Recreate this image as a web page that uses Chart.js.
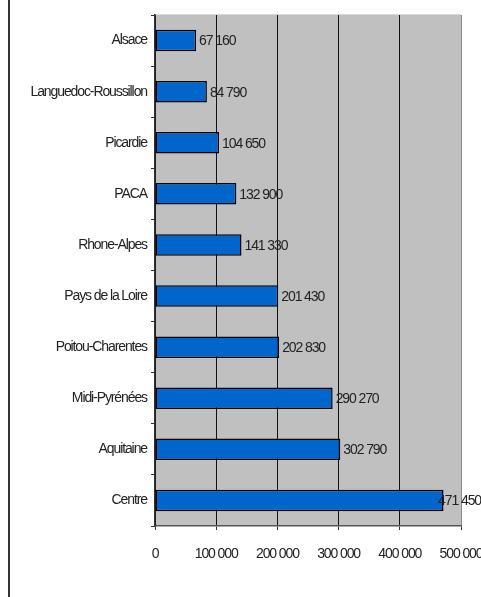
<!DOCTYPE html>
<html>
<head>
<meta charset="utf-8">
<script src="https://cdn.jsdelivr.net/npm/chart.js@4.4.1/dist/chart.umd.min.js"></script>
<style>
    html, body { margin: 0; padding: 0; background: #fff; }
    #wrap { position: relative; width: 481px; height: 597px; overflow: hidden; }
    #frame { position: absolute; left: 8px; top: 0; width: 2px; height: 597px; background: #333; }
    #regions { position: absolute; left: 0; top: 0; }
</style>
</head>
<body>
<div id="wrap">
    <div id="frame"></div>
    <canvas id="regions" width="481" height="597"></canvas>
</div>
<script>
const regions = ['Alsace', 'Languedoc-Roussillon', 'Picardie', 'PACA', 'Rhone-Alpes',
    'Pays de la Loire', 'Poitou-Charentes', 'Midi-Pyrénées', 'Aquitaine', 'Centre'];
const surfaces = [67160, 84790, 104650, 132900, 141330, 201430, 202830, 290270, 302790, 471450];
const xTicks = [0, 100000, 200000, 300000, 400000, 500000];

const FONT = "'Liberation Sans Narrow', 'Arial Narrow', 'Liberation Sans', Arial, sans-serif";
const TIGHT = '-1.1px';

function fmt(v) {
    return String(v).replace(/\B(?=(\d{3})+(?!\d))/g, ' ');
}

// texte resserré (pas de police étroite dispo)
const tightText = {
    id: 'tightText',
    beforeLayout(chart) { chart.ctx.letterSpacing = TIGHT; },
    beforeDraw(chart) { chart.ctx.letterSpacing = TIGHT; }
};

// fond gris de la zone de tracé
const plotBg = {
    id: 'plotBg',
    beforeDraw(chart) {
        const { ctx, chartArea: a } = chart;
        ctx.save();
        ctx.fillStyle = '#c0c0c0';
        ctx.fillRect(a.left, a.top, a.right - a.left, a.bottom - a.top);
        ctx.strokeStyle = '#d8d8d8';
        ctx.lineWidth = 1;
        ctx.beginPath();
        ctx.moveTo(a.left, a.top - 0.5);
        ctx.lineTo(a.right, a.top - 0.5);
        ctx.stroke();
        ctx.restore();
    }
};

// valeurs à droite des barres (recalées si elles débordent)
const valueLabels = {
    id: 'valueLabels',
    afterDatasetsDraw(chart) {
        const { ctx } = chart;
        const meta = chart.getDatasetMeta(0);
        ctx.save();
        ctx.font = '14px ' + FONT;
        ctx.fillStyle = '#222';
        ctx.textAlign = 'left';
        ctx.textBaseline = 'middle';
        meta.data.forEach((bar, i) => {
            const txt = fmt(surfaces[i]);
            const w = ctx.measureText(txt).width;
            const x = Math.min(bar.x + 3, chart.width - w);
            ctx.fillText(txt, x, bar.y + 1);
        });
        ctx.restore();
    }
};

new Chart(document.getElementById('regions'), {
    type: 'bar',
    data: {
        labels: regions,
        datasets: [{
            data: surfaces,
            backgroundColor: '#0066cc',
            borderColor: '#000',
            borderWidth: 1.5,
            borderSkipped: false,
            categoryPercentage: 1,
            barPercentage: 0.42
        }]
    },
    options: {
        indexAxis: 'y',
        responsive: false,
        animation: false,
        layout: { padding: { top: 15, right: 20, left: 0, bottom: 0 } },
        plugins: {
            legend: { display: false },
            tooltip: { enabled: false }
        },
        scales: {
            x: {
                min: 0,
                max: 500000,
                afterBuildTicks: (scale) => { scale.ticks = xTicks.map(v => ({ value: v })); },
                afterFit: (scale) => {
                    scale.height = 71;
                    scale.paddingLeft = 0;
                    scale.paddingRight = 0;
                },
                ticks: {
                    color: '#222',
                    font: { family: FONT, size: 14 },
                    padding: 16,
                    maxRotation: 0,
                    callback: (v) => fmt(v)
                },
                grid: {
                    color: (c) => c.index === 5 ? '#8a8a8a' : '#111',
                    tickColor: '#333',
                    tickLength: 4,
                    lineWidth: 1
                },
                border: { color: '#555', width: 1.5 }
            },
            y: {
                afterFit: (scale) => { scale.width = 155; },
                ticks: {
                    color: '#222',
                    font: { family: FONT, size: 14 },
                    padding: 4
                },
                grid: {
                    offset: true,
                    drawOnChartArea: false,
                    tickColor: '#333',
                    tickLength: 4
                },
                border: { color: '#333', width: 1.5 }
            }
        }
    },
    plugins: [tightText, plotBg, valueLabels]
});
</script>
</body>
</html>
